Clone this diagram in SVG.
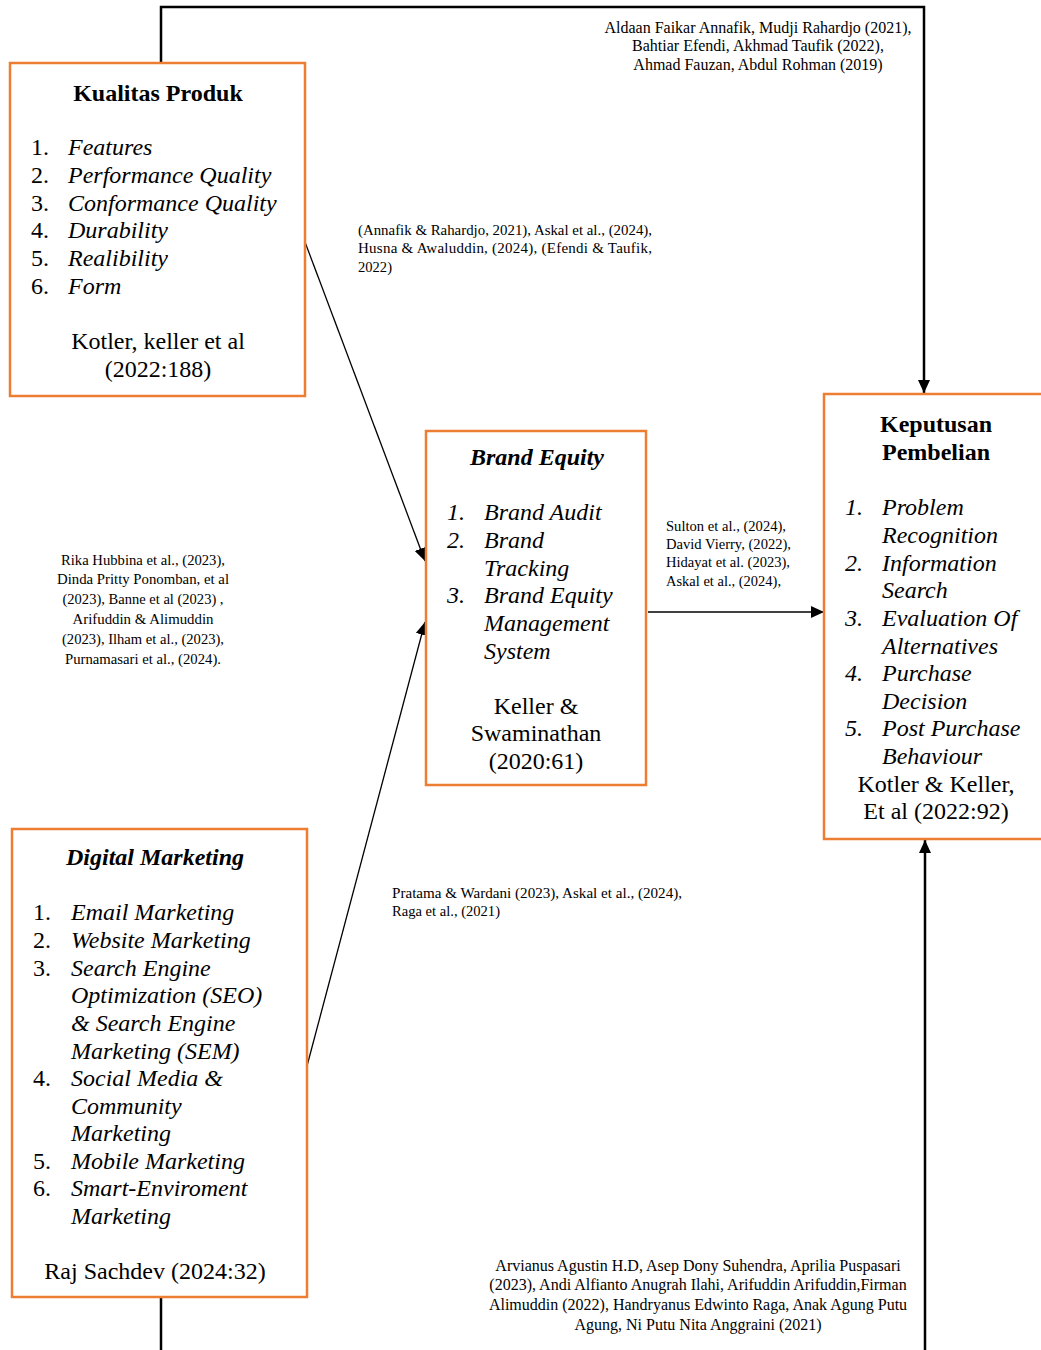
<svg xmlns="http://www.w3.org/2000/svg" width="1041" height="1350" viewBox="0 0 1041 1350">
<style>
.box{fill:#fff;stroke:#ED7D31;stroke-width:2.5}
text{font-family:"Liberation Serif","Times New Roman",Times,serif;fill:#000}
.t{font-size:24px;font-weight:bold}
.ti{font-size:24px;font-weight:bold;font-style:italic}
.it{font-size:24px;font-style:italic}
.n{font-size:24px}
.c{font-size:24px;text-anchor:middle}
.ref{font-size:16px}
.refc{font-size:15px}
.ln{fill:none;stroke:#000}
</style>
<defs>
<marker id="ah" markerWidth="13" markerHeight="12" refX="13" refY="6" orient="auto" markerUnits="userSpaceOnUse">
<path d="M0,0 L13,6 L0,12 Z" fill="#000"/>
</marker>
</defs>
<rect width="1041" height="1350" fill="#fff"/>
<g id="connectors">
<path class="ln" stroke-width="2.5" d="M161,63 V7 H924 V393" marker-end="url(#ah)"/>
<path class="ln" stroke-width="1.3" d="M305,242 L425,561" marker-end="url(#ah)"/>
<path class="ln" stroke-width="1.3" d="M307,1066 L425,622" marker-end="url(#ah)"/>
<path class="ln" stroke-width="1.3" d="M648,612 H824" marker-end="url(#ah)"/>
<path class="ln" stroke-width="2.5" d="M161,1297 V1350"/>
<path class="ln" stroke-width="2.5" d="M925,1350 V840" marker-end="url(#ah)"/>
</g>
<g id="refs">
<text class="ref" text-anchor="middle" x="758" y="33">Aldaan Faikar Annafik, Mudji Rahardjo (2021),</text>
<text class="ref" text-anchor="middle" x="758" y="51">Bahtiar Efendi, Akhmad Taufik (2022),</text>
<text class="ref" text-anchor="middle" x="758" y="70">Ahmad Fauzan, Abdul Rohman (2019)</text>
<text class="refc" x="358" y="235" textLength="294" lengthAdjust="spacingAndGlyphs">(Annafik &amp; Rahardjo, 2021),  Askal et al., (2024),</text>
<text class="refc" x="358" y="253" textLength="294">Husna &amp; Awaluddin, (2024), (Efendi &amp; Taufik,</text>
<text class="refc" x="358" y="272" textLength="34" lengthAdjust="spacingAndGlyphs">2022)</text>
<text class="refc" text-anchor="middle" x="143" y="565" textLength="164" lengthAdjust="spacingAndGlyphs">Rika Hubbina et al., (2023),</text>
<text class="refc" text-anchor="middle" x="143" y="584" textLength="172" lengthAdjust="spacingAndGlyphs">Dinda Pritty Ponomban, et al</text>
<text class="refc" text-anchor="middle" x="143" y="604" textLength="161" lengthAdjust="spacingAndGlyphs">(2023), Banne et al (2023) ,</text>
<text class="refc" text-anchor="middle" x="143" y="624" textLength="141" lengthAdjust="spacingAndGlyphs">Arifuddin &amp; Alimuddin</text>
<text class="refc" text-anchor="middle" x="143" y="644" textLength="162" lengthAdjust="spacingAndGlyphs">(2023), Ilham et al., (2023),</text>
<text class="refc" text-anchor="middle" x="143" y="664" textLength="156" lengthAdjust="spacingAndGlyphs">Purnamasari et al., (2024).</text>
<text class="refc" x="666" y="531" textLength="120" lengthAdjust="spacingAndGlyphs">Sulton et al., (2024),</text>
<text class="refc" x="666" y="549" textLength="125" lengthAdjust="spacingAndGlyphs">David Vierry, (2022),</text>
<text class="refc" x="666" y="567" textLength="124" lengthAdjust="spacingAndGlyphs">Hidayat et al. (2023),</text>
<text class="refc" x="666" y="586" textLength="115" lengthAdjust="spacingAndGlyphs">Askal et al., (2024),</text>
<text class="refc" x="392" y="898" textLength="290" lengthAdjust="spacingAndGlyphs">Pratama &amp; Wardani (2023), Askal et al., (2024),</text>
<text class="refc" x="392" y="916" textLength="108" lengthAdjust="spacingAndGlyphs">Raga et al., (2021)</text>
<text class="ref" text-anchor="middle" x="698" y="1271">Arvianus Agustin H.D, Asep Dony Suhendra, Aprilia Puspasari</text>
<text class="ref" text-anchor="middle" x="698" y="1290">(2023), Andi Alfianto Anugrah Ilahi, Arifuddin Arifuddin,Firman</text>
<text class="ref" text-anchor="middle" x="698" y="1310">Alimuddin (2022), Handryanus Edwinto Raga, Anak Agung Putu</text>
<text class="ref" text-anchor="middle" x="698" y="1330">Agung, Ni Putu Nita Anggraini (2021)</text>
</g>
<g id="kualitas-produk">
<rect class="box" x="10" y="63" width="295" height="333"/>
<text class="t" text-anchor="middle" x="158" y="101">Kualitas Produk</text>
<text class="n" x="31" y="155">1.</text><text class="it" x="68" y="155">Features</text>
<text class="n" x="31" y="183">2.</text><text class="it" x="68" y="183">Performance Quality</text>
<text class="n" x="31" y="211">3.</text><text class="it" x="68" y="211">Conformance Quality</text>
<text class="n" x="31" y="238">4.</text><text class="it" x="68" y="238">Durability</text>
<text class="n" x="31" y="266">5.</text><text class="it" x="68" y="266">Realibility</text>
<text class="n" x="31" y="294">6.</text><text class="it" x="68" y="294">Form</text>
<text class="c" x="158" y="349">Kotler, keller et al</text>
<text class="c" x="158" y="377">(2022:188)</text>
</g>
<g id="brand-equity">
<rect class="box" x="426" y="431" width="220" height="354"/>
<text class="ti" text-anchor="middle" x="537" y="465">Brand Equity</text>
<text class="it" x="447" y="520">1.</text><text class="it" x="484" y="520">Brand Audit</text>
<text class="it" x="447" y="548">2.</text><text class="it" x="484" y="548">Brand</text>
<text class="it" x="484" y="576">Tracking</text>
<text class="it" x="447" y="603">3.</text><text class="it" x="484" y="603">Brand Equity</text>
<text class="it" x="484" y="631">Management</text>
<text class="it" x="484" y="659">System</text>
<text class="c" x="536" y="714">Keller &amp;</text>
<text class="c" x="536" y="741">Swaminathan</text>
<text class="c" x="536" y="769">(2020:61)</text>
</g>
<g id="keputusan-pembelian">
<rect class="box" x="824" y="394" width="230" height="445"/>
<text class="t" text-anchor="middle" x="936" y="432">Keputusan</text>
<text class="t" text-anchor="middle" x="936" y="460">Pembelian</text>
<text class="it" x="845" y="515">1.</text><text class="it" x="882" y="515">Problem</text>
<text class="it" x="882" y="543">Recognition</text>
<text class="it" x="845" y="571">2.</text><text class="it" x="882" y="571">Information</text>
<text class="it" x="882" y="598">Search</text>
<text class="it" x="845" y="626">3.</text><text class="it" x="882" y="626">Evaluation Of</text>
<text class="it" x="882" y="654">Alternatives</text>
<text class="it" x="845" y="681">4.</text><text class="it" x="882" y="681">Purchase</text>
<text class="it" x="882" y="709">Decision</text>
<text class="it" x="845" y="736">5.</text><text class="it" x="882" y="736">Post Purchase</text>
<text class="it" x="882" y="764">Behaviour</text>
<text class="c" x="936" y="792">Kotler &amp; Keller,</text>
<text class="c" x="936" y="819">Et al (2022:92)</text>
</g>
<g id="digital-marketing">
<rect class="box" x="12" y="829" width="295" height="468"/>
<text class="ti" text-anchor="middle" x="155" y="865">Digital Marketing</text>
<text class="n" x="33" y="920">1.</text><text class="it" x="71" y="920">Email Marketing</text>
<text class="n" x="33" y="948">2.</text><text class="it" x="71" y="948">Website Marketing</text>
<text class="n" x="33" y="976">3.</text><text class="it" x="71" y="976">Search Engine</text>
<text class="it" x="71" y="1003">Optimization (SEO)</text>
<text class="it" x="71" y="1031">&amp; Search Engine</text>
<text class="it" x="71" y="1059">Marketing (SEM)</text>
<text class="n" x="33" y="1086">4.</text><text class="it" x="71" y="1086">Social Media &amp;</text>
<text class="it" x="71" y="1114">Community</text>
<text class="it" x="71" y="1141">Marketing</text>
<text class="n" x="33" y="1169">5.</text><text class="it" x="71" y="1169">Mobile Marketing</text>
<text class="n" x="33" y="1196">6.</text><text class="it" x="71" y="1196">Smart-Enviroment</text>
<text class="it" x="71" y="1224">Marketing</text>
<text class="c" x="155" y="1279">Raj Sachdev (2024:32)</text>
</g>
</svg>
